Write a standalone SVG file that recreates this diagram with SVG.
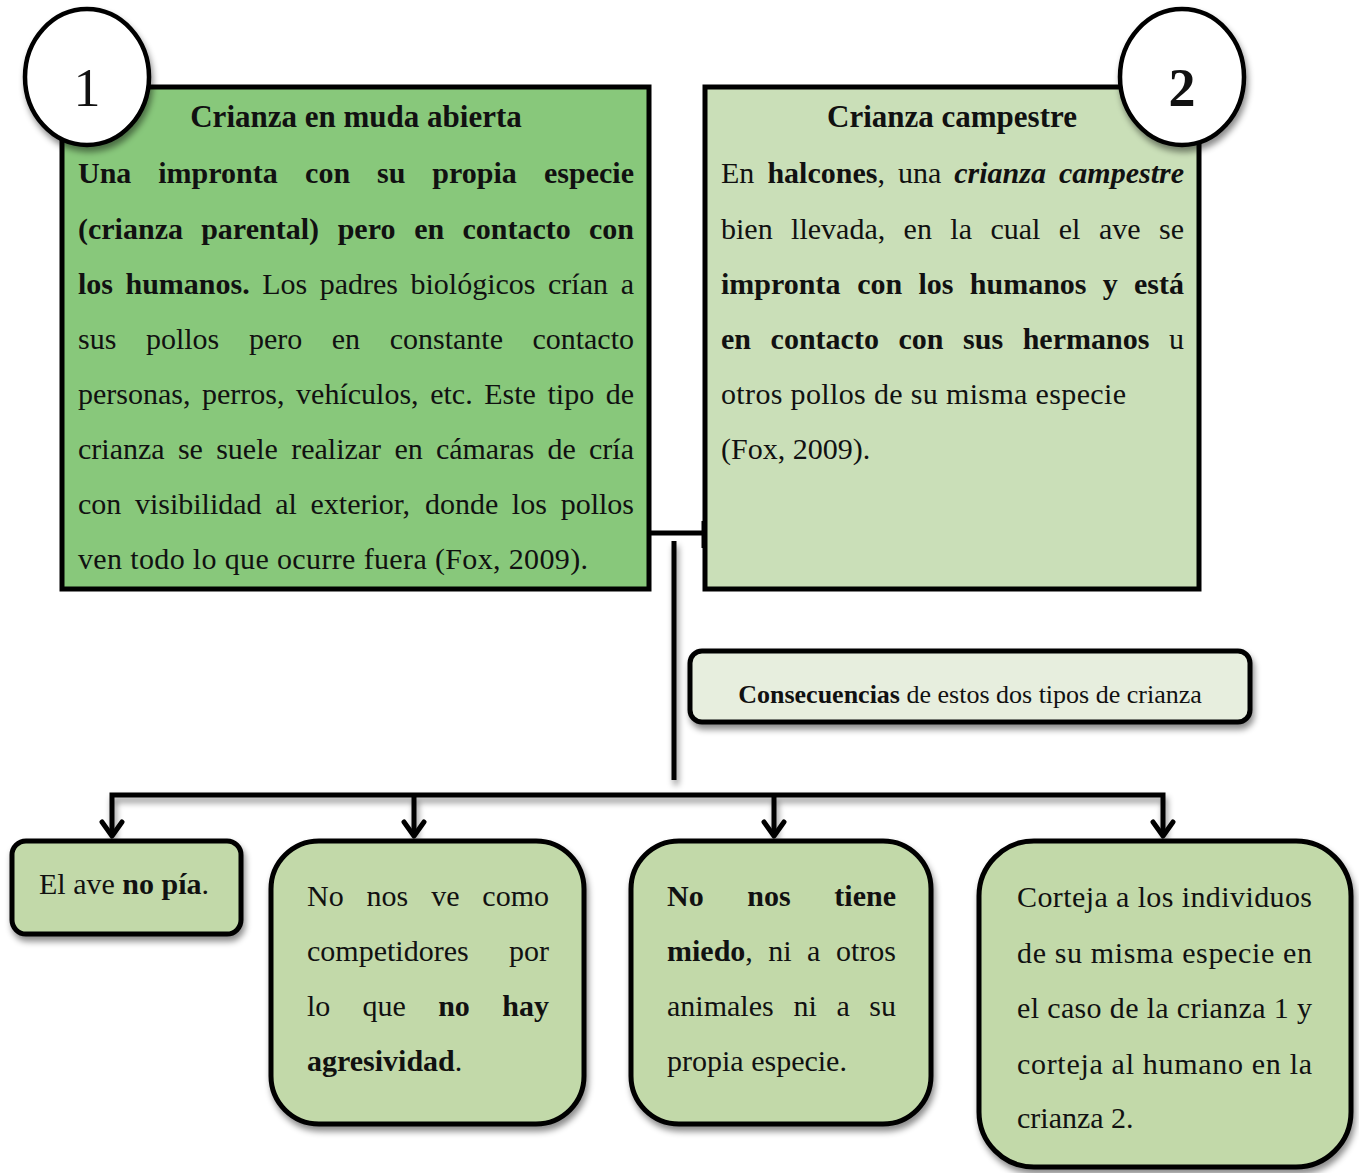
<svg xmlns="http://www.w3.org/2000/svg" width="1359" height="1173" viewBox="0 0 1359 1173">
<defs>
<filter id="sh" x="-10%" y="-10%" width="125%" height="130%">
<feDropShadow dx="2" dy="5" stdDeviation="3" flood-color="#000" flood-opacity="0.45"/>
</filter>
<filter id="shu" filterUnits="userSpaceOnUse" x="0" y="500" width="1359" height="380">
<feDropShadow dx="2" dy="5" stdDeviation="3" flood-color="#000" flood-opacity="0.45"/>
</filter>
</defs>
<style>
text{font-family:"Liberation Serif","DejaVu Serif",serif;font-size:30px;fill:#111}
.b{font-weight:bold}
.t{font-weight:bold;font-size:31px;text-anchor:middle}
.e{text-anchor:end}
.box{stroke:#000;stroke-width:5}
.ln{fill:none;stroke:#000;stroke-width:5}
.ah{fill:none;stroke:#000;stroke-width:5;stroke-linecap:round;stroke-linejoin:round}
.num{font-size:54px;text-anchor:middle}
.cons{font-size:26px}
.bi{font-weight:bold;font-style:italic}
</style>
<rect width="1359" height="1173" fill="#fff"/>

<g id="connectors">
<path class="ln" d="M646 533 H705"/>
<path d="M705 521 V548" stroke="#000" stroke-width="7"/>
<path class="ln" d="M674 541 V780" filter="url(#shu)"/>
<path class="ln" d="M112 836 V795 H1163 V836 M414 795 V836 M774 795 V836" filter="url(#shu)"/>
<path class="ah" d="M102 822 L112 836 L122 822 M404 822 L414 836 L424 822 M764 822 L774 836 L784 822 M1153 822 L1163 836 L1173 822"/>
</g>

<g id="node-box1">
<rect class="box" x="62" y="87" width="587" height="502" fill="#88C87B"/>
<text x="356" y="127" class="t">Crianza en muda abierta</text>
<text class="b" y="183"><tspan x="78">Una</tspan><tspan x="158.2">impronta</tspan><tspan x="305.1">con</tspan><tspan x="377">su</tspan><tspan x="432.3">propia</tspan></text>
<text class="b e" y="183" x="634">especie</text>
<text class="b" y="239"><tspan x="78">(crianza</tspan><tspan x="201.2">parental)</tspan><tspan x="337.7">pero</tspan><tspan x="414.2">en</tspan><tspan x="462.4">contacto</tspan></text>
<text class="b e" y="239" x="634">con</text>
<text y="294"><tspan x="78" class="b">los</tspan><tspan x="125.5" class="b">humanos.</tspan><tspan x="262.2">Los</tspan><tspan x="319.7">padres</tspan><tspan x="410.5">biológicos</tspan><tspan x="548">crían</tspan></text>
<text class="e" y="294" x="634">a</text>
<text y="349"><tspan x="78">sus</tspan><tspan x="145.9">pollos</tspan><tspan x="248.9">pero</tspan><tspan x="331.8">en</tspan><tspan x="389.7">constante</tspan></text>
<text class="e" y="349" x="634">contacto</text>
<text y="404"><tspan x="78">personas,</tspan><tspan x="202">perros,</tspan><tspan x="296.1">vehículos,</tspan><tspan x="430.2">etc.</tspan><tspan x="484.2">Este</tspan><tspan x="547.5">tipo</tspan></text>
<text class="e" y="404" x="634">de</text>
<text y="459"><tspan x="78">crianza</tspan><tspan x="177.9">se</tspan><tspan x="216.2">suele</tspan><tspan x="291.2">realizar</tspan><tspan x="394.4">en</tspan><tspan x="435.9">cámaras</tspan><tspan x="547.5">de</tspan></text>
<text class="e" y="459" x="634">cría</text>
<text y="514"><tspan x="78">con</tspan><tspan x="134.9">visibilidad</tspan><tspan x="275.2">al</tspan><tspan x="310.5">exterior,</tspan><tspan x="424.9">donde</tspan><tspan x="511.8">los</tspan></text>
<text class="e" y="514" x="634">pollos</text>
<text y="569" x="78" textLength="510" lengthAdjust="spacing">ven todo lo que ocurre fuera (Fox, 2009).</text>
</g>

<g id="node-circle1">
<ellipse cx="87" cy="77" rx="62" ry="68" fill="#fff" stroke="#000" stroke-width="4.5" filter="url(#sh)"/>
<text x="87" y="106" class="num">1</text>
</g>

<g id="node-box2">
<rect class="box" x="705" y="87" width="494" height="502" fill="#CADFB8"/>
<text x="952" y="127" class="t">Crianza campestre</text>
<text y="183"><tspan x="721">En</tspan><tspan x="767.4" class="b">halcones</tspan><tspan>,</tspan><tspan x="898">una</tspan><tspan x="954.3" class="bi">crianza</tspan></text>
<text class="bi e" y="183" x="1184">campestre</text>
<text y="239"><tspan x="721">bien</tspan><tspan x="791.1">llevada,</tspan><tspan x="903.6">en</tspan><tspan x="950.3">la</tspan><tspan x="990.4">cual</tspan><tspan x="1058.8">el</tspan><tspan x="1098.9">ave</tspan></text>
<text class="e" y="239" x="1184">se</text>
<text y="294" class="b"><tspan x="721">impronta</tspan><tspan x="857.3">con</tspan><tspan x="918.5">los</tspan><tspan x="969.8">humanos</tspan><tspan x="1102.7">y</tspan></text>
<text class="b e" y="294" x="1184">está</text>
<text y="349" class="b"><tspan x="721">en</tspan><tspan x="770.6">contacto</tspan><tspan x="898.5">con</tspan><tspan x="963.1">sus</tspan><tspan x="1022.7">hermanos</tspan></text>
<text class="e" y="349" x="1184">u</text>
<text y="404" x="721" textLength="405" lengthAdjust="spacing">otros pollos de su misma especie</text>
<text y="459" x="721">(Fox, 2009).</text>
</g>

<g id="node-circle2">
<ellipse cx="1182" cy="77" rx="62" ry="68" fill="#fff" stroke="#000" stroke-width="4.5" filter="url(#sh)"/>
<text x="1182" y="106" class="num b">2</text>
</g>

<g id="node-consecuencias">
<rect class="box" x="690" y="651" width="560" height="71" rx="12" fill="#E7EEDE" filter="url(#sh)"/>
<text x="970" y="703" class="cons" text-anchor="middle"><tspan class="b">Consecuencias</tspan> de estos dos tipos de crianza</text>
</g>

<g id="node-a">
<rect class="box" x="12" y="841" width="229" height="93" rx="14" fill="#C2D9A9" filter="url(#sh)"/>
<text x="39" y="894">El ave <tspan class="b">no pía</tspan>.</text>
</g>

<g id="node-b">
<rect class="box" x="271" y="841" width="313" height="283" rx="48" fill="#C2D9A9" filter="url(#sh)"/>
<text y="906"><tspan x="307">No</tspan><tspan x="366.6">nos</tspan><tspan x="431.2">ve</tspan></text>
<text class="e" y="906" x="549">como</text>
<text y="961" x="307">competidores</text>
<text class="e" y="961" x="549">por</text>
<text y="1016"><tspan x="307">lo</tspan><tspan x="362.6">que</tspan><tspan x="438.2" class="b">no</tspan></text>
<text class="b e" y="1016" x="549">hay</text>
<text y="1071" x="307"><tspan class="b">agresividad</tspan>.</text>
</g>

<g id="node-c">
<rect class="box" x="631" y="841" width="300" height="283" rx="48" fill="#C2D9A9" filter="url(#sh)"/>
<text y="906" class="b"><tspan x="667">No</tspan><tspan x="747.3">nos</tspan></text>
<text class="b e" y="906" x="896">tiene</text>
<text y="961"><tspan x="667" class="b">miedo</tspan><tspan>,</tspan><tspan x="768.3">ni</tspan><tspan x="807.1">a</tspan></text>
<text class="e" y="961" x="896">otros</text>
<text y="1016"><tspan x="667">animales</tspan><tspan x="793.4">ni</tspan><tspan x="836.4">a</tspan></text>
<text class="e" y="1016" x="896">su</text>
<text y="1071" x="667">propia especie.</text>
</g>

<g id="node-d">
<rect class="box" x="979" y="841" width="372" height="326" rx="55" fill="#C2D9A9" filter="url(#sh)"/>
<text y="907" x="1017" textLength="295" lengthAdjust="spacing">Corteja a los individuos</text>
<text y="963" x="1017" textLength="295" lengthAdjust="spacing">de su misma especie en</text>
<text y="1018" x="1017" textLength="295" lengthAdjust="spacing">el caso de la crianza 1 y</text>
<text y="1074" x="1017" textLength="295" lengthAdjust="spacing">corteja al humano en la</text>
<text y="1128" x="1017">crianza 2.</text>
</g>
</svg>
